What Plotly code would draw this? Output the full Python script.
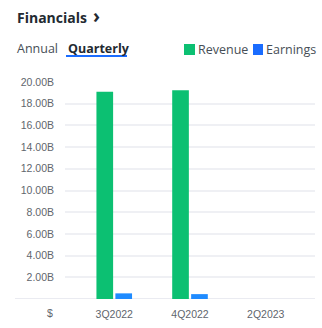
import plotly.graph_objects as go

# Quarterly financials (billions of USD)
quarters = ["3Q2022", "4Q2022", "2Q2023"]
revenue = [19.1, 19.25, None]
earnings = [0.52, 0.45, None]
ytick_vals = [2, 4, 6, 8, 10, 12, 14, 16, 18, 20]
ytick_text = [f"{v:.2f}B" for v in ytick_vals]

GREEN = "#0cc072"
BLUE = "#1f8bff"
LEGEND_BLUE = "#1a6cff"
DARK = "#232a31"
GREY = "#464e56"
AXIS_GREY = "#5f666d"

W, H = 322, 328
L, R, T, B = 65, 7, 82, 29

fig = go.Figure()
fig.add_trace(go.Bar(x=quarters, y=revenue, name="Revenue", marker_color=GREEN,
                     marker_line_width=0))
fig.add_trace(go.Bar(x=quarters, y=earnings, name="Earnings", marker_color=BLUE,
                     marker_line_width=0))


def px_x(p):
    return (p - L) / (W - L - R)


def px_y(p):
    return (H - B - p) / (H - T - B)


annotations = [
    dict(text="<b>Financials</b>", x=px_x(15), y=px_y(17), xanchor="left", yanchor="middle",
         font=dict(family="Open Sans", size=14, color=DARK)),
    dict(text="<b>›</b>", x=px_x(91), y=px_y(16), xanchor="left", yanchor="middle",
         font=dict(family="Open Sans", size=19, color=DARK)),
    dict(text="Annual", x=px_x(15), y=px_y(48), xanchor="left", yanchor="middle",
         font=dict(family="Open Sans", size=12.5, color=GREY)),
    dict(text="<b>Quarterly</b>", x=px_x(66), y=px_y(48), xanchor="left", yanchor="middle",
         font=dict(family="Open Sans", size=12.5, color=DARK)),
    dict(text="Revenue", x=px_x(196), y=px_y(49), xanchor="left", yanchor="middle",
         font=dict(family="Open Sans", size=12.5, color=GREY)),
    dict(text="Earnings", x=px_x(264), y=px_y(49), xanchor="left", yanchor="middle",
         font=dict(family="Open Sans", size=12.5, color=GREY)),
    dict(text="$", x=px_x(50), y=px_y(313), xanchor="center", yanchor="middle",
         font=dict(family="Liberation Sans", size=10.5, color=AXIS_GREY)),
]
for a in annotations:
    a.update(xref="paper", yref="paper", showarrow=False)

shapes = [
    # tab underline
    dict(type="rect", x0=px_x(66), x1=px_x(127), y0=px_y(57), y1=px_y(55),
         fillcolor="#1a6cff", line_width=0),
    # legend swatches
    dict(type="rect", x0=px_x(184), x1=px_x(195), y0=px_y(55), y1=px_y(44),
         fillcolor=GREEN, line_width=0),
    dict(type="rect", x0=px_x(253), x1=px_x(263), y0=px_y(55), y1=px_y(44),
         fillcolor=LEGEND_BLUE, line_width=0),
    # baseline
    dict(type="line", xref="paper", yref="y", x0=px_x(15), x1=1, y0=0, y1=0,
         line=dict(color="#e3e5ec", width=1.5), layer="below"),
]
for s in shapes[:3]:
    s.update(xref="paper", yref="paper")

fig.update_layout(
    width=W, height=H,
    margin=dict(l=L, r=R, t=T, b=B, pad=0),
    paper_bgcolor="white", plot_bgcolor="white",
    barmode="group", bargap=0.5, bargroupgap=0.12,
    showlegend=False,
    annotations=annotations,
    shapes=shapes,
    xaxis=dict(type="category", range=[-0.65, 2.65], showgrid=False, zeroline=False,
               showline=False, ticks="", fixedrange=True,
               tickfont=dict(family="Liberation Sans", size=10.5, color=AXIS_GREY),
               ticklabelstandoff=7),
    yaxis=dict(range=[0, 20], tickvals=ytick_vals, ticktext=ytick_text,
               showgrid=True, gridcolor="#eff0f4", gridwidth=1.5, zeroline=False,
               showline=False, ticks="", ticklabelstandoff=10,
               tickfont=dict(family="Liberation Sans", size=10.5, color=AXIS_GREY)),
)

fig.write_html("out.html")
